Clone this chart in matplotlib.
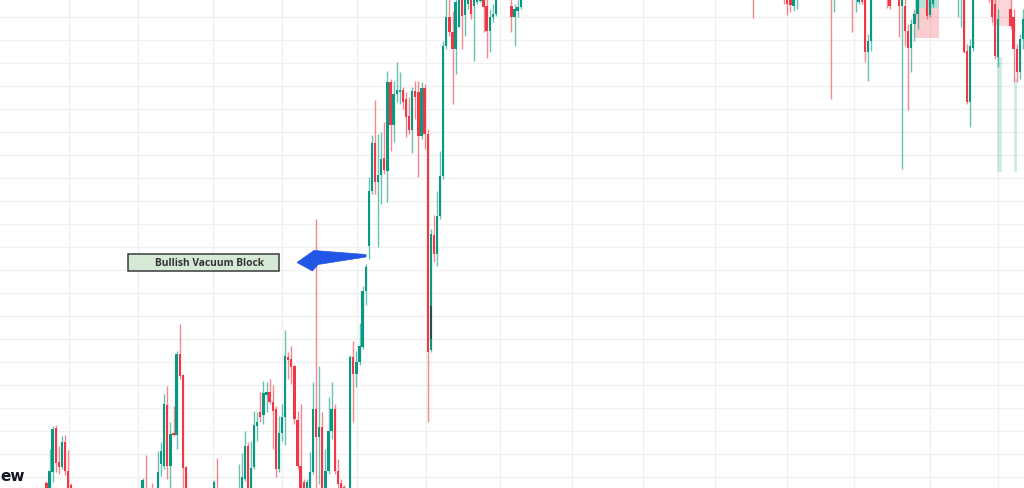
import matplotlib
matplotlib.use("Agg")
import matplotlib.pyplot as plt
from matplotlib.patches import Rectangle, Polygon
import numpy as np

# ---- data (bar index, open, high, low, close) ----
bar_idx = [14, 15, 16, 17, 18, 19, 20, 21, 22,
           45, 46, 48, 50, 51, 52, 53, 54, 55, 56, 57, 58, 59,
           68, 69, 76, 77, 78, 79, 80, 81, 82, 83, 84, 85, 86, 87, 88, 89, 90,
           91, 92, 93, 94, 95, 96, 97, 98, 99, 100, 101, 102, 103, 104, 105,
           106, 107, 108, 109, 110,
           112, 113, 114, 115, 116, 117, 118, 119, 120, 121, 122, 123, 124,
           125, 126, 127, 128, 129, 130, 131, 132, 133, 134, 135, 136, 137,
           138, 139, 140, 141, 142, 143, 144, 145, 146, 147, 148, 149, 150,
           151, 152, 153, 154, 155, 156, 157, 158, 159, 164, 165, 166, 167,
           242, 252, 253, 254, 255, 256, 267, 268, 274, 275, 276, 277, 278,
           279, 280, 285, 286, 289, 290, 291, 292, 293, 294, 295, 298, 299,
           300, 308, 309, 310, 311, 312, 313, 318, 319, 320, 321, 325, 326,
           327, 328, 329]
opens = [5, -6, 16, 60, 26, 21, 46, 17, 3,
         -6, -3, -1, -11, 24, 22, 83, 22, 55, 53, 134, 113, 21,
         -6, -3, -6, -3, 9, 42, -6, 21, 62, 76, 73, 93, 96, 86, 79, 19, 55,
         71, 131, 129, 122, 68, 22, 6, -6, -6, 16, 79, 51, 61, -6, 17,
         57, 79, 17, 5, 1,
         -11, 131, 114, 126, 141, 197, 242, 297, 345, 306, 313, 330, 317,
         406, 363, 394, 396, 398, 389, 372, 358, 397, 396, 352, 400, 354,
         138, 253, 234, 272, 312, 442, 471, 456, 439, 461, 494, 473, 484,
         494, 482, 486, 487, 494, 482, 457, 471, 474, 482, 471, 477, 481,
         499, 499, 494, 494, 482, 492, 499, 494, 499, 494, 486, 494, 494,
         436, 447, 499, 494, 494, 482, 482, 457, 440, 464, 474, 494, 473,
         484, 494, 494, 494, 437, 386, 440, 499, 494, 484, 431, 479, 471,
         439, 416, 449]
highs = [7, 39, 62, 63, 42, 52, 53, 38, 5,
         10, 33, 5, 37, 46, 94, 102, 66, 82, 137, 164, 114, 22,
         8, 30, 24, 35, 57, 46, 47, 77, 76, 96, 107, 106, 109, 103, 82, 72, 84,
         158, 136, 142, 123, 77, 84, 9, 9, 36, 106, 269, 122, 76, 39, 91,
         106, 84, 29, 9, 3,
         133, 147, 137, 165, 202, 224, 311, 353, 388, 354, 356, 366, 417,
         409, 407, 426, 416, 401, 396, 391, 401, 407, 407, 406, 404, 359,
         259, 273, 297, 337, 447, 494, 489, 477, 494, 499, 499, 499, 499,
         499, 499, 499, 499, 499, 494, 479, 484, 499, 494, 484, 489, 499,
         504, 504, 499, 499, 499, 499, 504, 504, 504, 504, 499, 499, 499,
         454, 499, 504, 499, 499, 499, 489, 464, 469, 479, 499, 499, 499,
         499, 504, 504, 499, 444, 449, 499, 504, 499, 494, 479, 489, 479,
         444, 454, 479]
lows = [-11, -9, 6, 16, 14, 19, 13, -11, -11,
        -9, -16, -11, -16, 12, 19, 9, 0, 52, 39, 109, 0, -11,
        -11, -16, -11, -6, 7, -11, -9, 19, 47, 66, 64, 76, 84, 39, 11, 16, 47,
        43, 109, 104, 64, 19, -11, -11, -9, -9, 14, -6, 4, -11, -9, 14,
        49, 14, -6, -11, -11,
        -16, 66, 101, 123, 139, 183, 229, 294, 294, 241, 284, 314, 286,
        337, 346, 386, 384, 379, 351, 354, 335, 369, 311, 349, 339, 66,
        136, 226, 222, 269, 309, 439, 452, 384, 414, 461, 439, 452, 479,
        469, 427, 484, 486, 456, 430, 436, 466, 472, 456, 442, 471, 479,
        470, 484, 473, 476, 477, 479, 389, 476, 456, 476, 484, 484, 426,
        407, 437, 480, 479, 451, 319, 442, 378, 416, 447, 459, 469, 471,
        481, 471, 461, 435, 384, 361, 437, 486, 466, 429, 421, 459, 406,
        406, 409, 439]
closes = [-6, 17, 59, 25, 21, 46, 17, -6, -6,
          8, -11, -8, 16, 37, 84, 22, 54, 53, 134, 112, 20, -6,
          6, -11, -1, 11, 42, -6, 20, 63, 66, 71, 95, 96, 86, 77, 19, 55, 71,
          132, 128, 121, 69, 22, -6, -6, 6, 16, 79, 51, 61, -6, 17, 57,
          79, 17, 4, -6, -6,
          131, 114, 126, 142, 197, 221, 297, 345, 306, 313, 329, 318, 406,
          363, 394, 398, 398, 386, 371, 358, 397, 391, 352, 400, 354, 136,
          254, 234, 272, 312, 442, 471, 456, 439, 486, 494, 472, 494, 494,
          474, 494, 494, 494, 481, 457, 471, 474, 494, 471, 479, 481, 494,
          494, 492, 484, 483, 494, 497, 494, 499, 494, 499, 494, 486, 436,
          447, 494, 494, 482, 482, 494, 457, 440, 464, 474, 494, 472, 494,
          494, 499, 499, 436, 386, 442, 494, 494, 471, 432, 469, 462, 439,
          416, 449, 469]

grid_price_step = 23
grid_price_start = 11
time_grid = [21.3, 43.5, 67.7, 90, 114.2, 136.5, 160.3, 183.5, 206.5,
             229.7, 252.9, 274.5, 299, 321]

label_text = "Bullish Vacuum Block"
watermark_text = "ew"

# ---- style ----
UP = "#089981"
DOWN = "#f23645"

fig = plt.figure(figsize=(10.24, 4.89), dpi=100)
ax = fig.add_axes([0, 0, 1, 1])
ax.set_xlim(-0.968, 329.35)
ax.set_ylim(0, 489)
for s in ax.spines.values():
    s.set_visible(False)
ax.set_xticks([])
ax.set_yticks([])

# grid
for p in np.arange(grid_price_start, 489, grid_price_step):
    ax.axhline(p, color="#f0f0f0", lw=1.0, zorder=0)
for t in time_grid:
    ax.axvline(t, color="#f0f0f0", lw=1.0, zorder=0)

# overlay zones (behind candles)
ax.add_patch(Rectangle((294.2, 450), 7.7, 30, facecolor="#f23645", alpha=0.25,
                       edgecolor="none", zorder=1))
ax.add_patch(Rectangle((294.2, 480), 7.7, 15, facecolor="#089981", alpha=0.3,
                       edgecolor="none", zorder=1))
ax.add_patch(Rectangle((319.0, 462), 6.2, 30, facecolor="#f23645", alpha=0.2,
                       edgecolor="none", zorder=1))
ax.add_patch(Rectangle((320.5, 316), 1.6, 115, facecolor="#089981", alpha=0.18,
                       edgecolor="none", zorder=1))
ax.add_patch(Rectangle((326.0, 316), 1.1, 93, facecolor="#089981", alpha=0.18,
                       edgecolor="none", zorder=1))

# candles
x = np.array(bar_idx, dtype=float)
o = np.array(opens, dtype=float)
h = np.array(highs, dtype=float)
l = np.array(lows, dtype=float)
c = np.array(closes, dtype=float)
up = c >= o
cols = np.where(up, UP, DOWN)
ax.vlines(x, l, h, colors=cols, lw=1.0, alpha=0.6, zorder=2)
bottom = np.minimum(o, c)
height = np.maximum(np.abs(c - o), 0.9)
ax.bar(x, height, bottom=bottom, width=0.75, color=cols, edgecolor="none",
       zorder=3)

# dark overlay on one body
ax.add_patch(Rectangle((137.62, 149), 0.75, 33, facecolor="#2b3b36", alpha=0.75,
                       edgecolor="none", zorder=4))

# label box
ax.add_patch(Rectangle((128 / 1024, (489 - 272) / 489), 151 / 1024, 17 / 489,
                       transform=ax.transAxes, facecolor="#d6e8d6",
                       edgecolor="#3a3a3a", lw=1.1, zorder=5))
ax.text(209.5 / 1024, (489 - 263.5) / 489, label_text, transform=ax.transAxes,
        ha="center", va="center", fontsize=7.4, fontweight="bold",
        family="Open Sans", color="#333333", zorder=6)

# arrow
pts_px = [(297, 263.5), (314, 251.5), (366, 255.5), (366, 258), (318, 265.5),
          (312.5, 272)]
pts = [(px / 1024, (489 - py) / 489) for px, py in pts_px]
ax.add_patch(Polygon(pts, closed=True, transform=ax.transAxes,
                     facecolor="#2156e6", edgecolor="#2156e6", lw=0.5, zorder=6))

# watermark (visible part of cropped logo text)
ax.text(0.5 / 1024, (489 - 481) / 489, watermark_text, transform=ax.transAxes,
        ha="left", va="baseline", fontsize=11, fontweight="bold",
        color="#131722", zorder=6)

fig.savefig("out.png", dpi=100)
